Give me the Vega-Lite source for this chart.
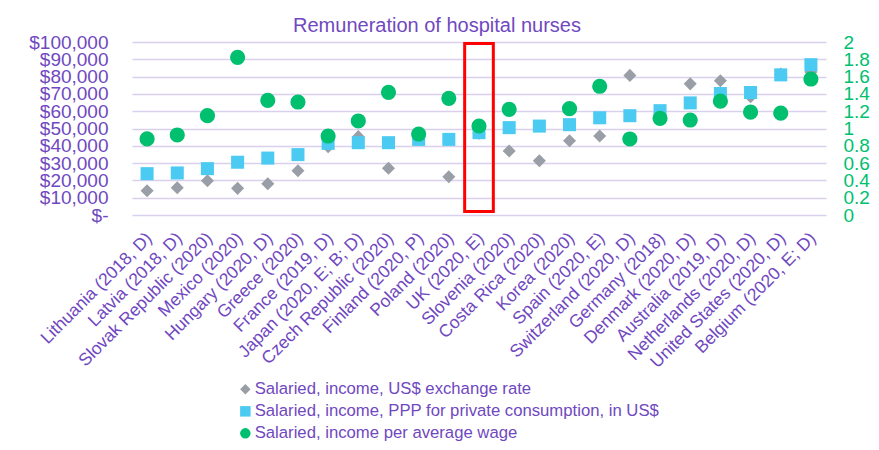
{
  "$schema": "https://vega.github.io/schema/vega-lite/v6.json",
  "width": 694,
  "height": 173,
  "autosize": {"type": "none"},
  "padding": {"left": 132, "top": 42, "right": 53, "bottom": 235},
  "background": "white",
  "title": {
    "text": "Remuneration of hospital nurses",
    "font": "Liberation Sans",
    "fontSize": 20,
    "fontWeight": "normal",
    "color": "#7048C0",
    "anchor": "middle",
    "frame": "group",
    "dx": -42,
    "offset": -3
  },
  "datasets": {
    "pay": [
      {"country": "Lithuania (2018, D)", "series": "Salaried, income, US$ exchange rate", "value": 14000},
      {"country": "Latvia (2018, D)", "series": "Salaried, income, US$ exchange rate", "value": 15800},
      {"country": "Slovak Republic (2020)", "series": "Salaried, income, US$ exchange rate", "value": 19800},
      {"country": "Mexico (2020)", "series": "Salaried, income, US$ exchange rate", "value": 15400},
      {"country": "Hungary (2020, D)", "series": "Salaried, income, US$ exchange rate", "value": 18100},
      {"country": "Greece (2020)", "series": "Salaried, income, US$ exchange rate", "value": 25600},
      {"country": "France (2019, D)", "series": "Salaried, income, US$ exchange rate", "value": 39500},
      {"country": "Japan (2020, E; B; D)", "series": "Salaried, income, US$ exchange rate", "value": 45300},
      {"country": "Czech Republic (2020)", "series": "Salaried, income, US$ exchange rate", "value": 27000},
      {"country": "Finland (2020, P)", "series": "Salaried, income, US$ exchange rate", "value": 43500},
      {"country": "Poland (2020)", "series": "Salaried, income, US$ exchange rate", "value": 22100},
      {"country": "UK (2020, E)", "series": "Salaried, income, US$ exchange rate", "value": 47200},
      {"country": "Slovenia (2020)", "series": "Salaried, income, US$ exchange rate", "value": 37000},
      {"country": "Costa Rica (2020)", "series": "Salaried, income, US$ exchange rate", "value": 31400},
      {"country": "Korea (2020)", "series": "Salaried, income, US$ exchange rate", "value": 42900},
      {"country": "Spain (2020, E)", "series": "Salaried, income, US$ exchange rate", "value": 45700},
      {"country": "Switzerland (2020, D)", "series": "Salaried, income, US$ exchange rate", "value": 80700},
      {"country": "Germany (2018)", "series": "Salaried, income, US$ exchange rate", "value": 59000},
      {"country": "Denmark (2020, D)", "series": "Salaried, income, US$ exchange rate", "value": 75800},
      {"country": "Australia (2019, D)", "series": "Salaried, income, US$ exchange rate", "value": 77600},
      {"country": "Netherlands (2020, D)", "series": "Salaried, income, US$ exchange rate", "value": 68400},
      {"country": "United States (2020, D)", "series": "Salaried, income, US$ exchange rate", "value": 81500},
      {"country": "Belgium (2020, E; D)", "series": "Salaried, income, US$ exchange rate", "value": 82600},

      {"country": "Lithuania (2018, D)", "series": "Salaried, income, PPP for private consumption, in US$", "value": 23900},
      {"country": "Latvia (2018, D)", "series": "Salaried, income, PPP for private consumption, in US$", "value": 24300},
      {"country": "Slovak Republic (2020)", "series": "Salaried, income, PPP for private consumption, in US$", "value": 26800},
      {"country": "Mexico (2020)", "series": "Salaried, income, PPP for private consumption, in US$", "value": 30500},
      {"country": "Hungary (2020, D)", "series": "Salaried, income, PPP for private consumption, in US$", "value": 32900},
      {"country": "Greece (2020)", "series": "Salaried, income, PPP for private consumption, in US$", "value": 34900},
      {"country": "France (2019, D)", "series": "Salaried, income, PPP for private consumption, in US$", "value": 41400},
      {"country": "Japan (2020, E; B; D)", "series": "Salaried, income, PPP for private consumption, in US$", "value": 41800},
      {"country": "Czech Republic (2020)", "series": "Salaried, income, PPP for private consumption, in US$", "value": 41800},
      {"country": "Finland (2020, P)", "series": "Salaried, income, PPP for private consumption, in US$", "value": 43700},
      {"country": "Poland (2020)", "series": "Salaried, income, PPP for private consumption, in US$", "value": 43700},
      {"country": "UK (2020, E)", "series": "Salaried, income, PPP for private consumption, in US$", "value": 47600},
      {"country": "Slovenia (2020)", "series": "Salaried, income, PPP for private consumption, in US$", "value": 50500},
      {"country": "Costa Rica (2020)", "series": "Salaried, income, PPP for private consumption, in US$", "value": 51400},
      {"country": "Korea (2020)", "series": "Salaried, income, PPP for private consumption, in US$", "value": 52200},
      {"country": "Spain (2020, E)", "series": "Salaried, income, PPP for private consumption, in US$", "value": 56200},
      {"country": "Switzerland (2020, D)", "series": "Salaried, income, PPP for private consumption, in US$", "value": 57400},
      {"country": "Germany (2018)", "series": "Salaried, income, PPP for private consumption, in US$", "value": 60300},
      {"country": "Denmark (2020, D)", "series": "Salaried, income, PPP for private consumption, in US$", "value": 64800},
      {"country": "Australia (2019, D)", "series": "Salaried, income, PPP for private consumption, in US$", "value": 70200},
      {"country": "Netherlands (2020, D)", "series": "Salaried, income, PPP for private consumption, in US$", "value": 70800},
      {"country": "United States (2020, D)", "series": "Salaried, income, PPP for private consumption, in US$", "value": 81000},
      {"country": "Belgium (2020, E; D)", "series": "Salaried, income, PPP for private consumption, in US$", "value": 86900},

      {"country": "Lithuania (2018, D)", "series": "Salaried, income per average wage", "value": 0.88},
      {"country": "Latvia (2018, D)", "series": "Salaried, income per average wage", "value": 0.925},
      {"country": "Slovak Republic (2020)", "series": "Salaried, income per average wage", "value": 1.148},
      {"country": "Mexico (2020)", "series": "Salaried, income per average wage", "value": 1.823},
      {"country": "Hungary (2020, D)", "series": "Salaried, income per average wage", "value": 1.326},
      {"country": "Greece (2020)", "series": "Salaried, income per average wage", "value": 1.306},
      {"country": "France (2019, D)", "series": "Salaried, income per average wage", "value": 0.913},
      {"country": "Japan (2020, E; B; D)", "series": "Salaried, income per average wage", "value": 1.087},
      {"country": "Czech Republic (2020)", "series": "Salaried, income per average wage", "value": 1.418},
      {"country": "Finland (2020, P)", "series": "Salaried, income per average wage", "value": 0.936},
      {"country": "Poland (2020)", "series": "Salaried, income per average wage", "value": 1.349},
      {"country": "UK (2020, E)", "series": "Salaried, income per average wage", "value": 1.029},
      {"country": "Slovenia (2020)", "series": "Salaried, income per average wage", "value": 1.222},
      {"country": "Korea (2020)", "series": "Salaried, income per average wage", "value": 1.229},
      {"country": "Spain (2020, E)", "series": "Salaried, income per average wage", "value": 1.488},
      {"country": "Switzerland (2020, D)", "series": "Salaried, income per average wage", "value": 0.879},
      {"country": "Germany (2018)", "series": "Salaried, income per average wage", "value": 1.118},
      {"country": "Denmark (2020, D)", "series": "Salaried, income per average wage", "value": 1.098},
      {"country": "Australia (2019, D)", "series": "Salaried, income per average wage", "value": 1.316},
      {"country": "Netherlands (2020, D)", "series": "Salaried, income per average wage", "value": 1.189},
      {"country": "United States (2020, D)", "series": "Salaried, income per average wage", "value": 1.177},
      {"country": "Belgium (2020, E; D)", "series": "Salaried, income per average wage", "value": 1.572}
    ],
    "highlight": [
      {"country": "UK (2020, E)", "top": 99100, "bottom": 2000}
    ]
  },
  "data": {"name": "pay"},
  "encoding": {
    "x": {
      "field": "country", "type": "nominal",
      "scale": {
        "type": "band", "paddingInner": 0, "paddingOuter": 0,
        "domain": ["Lithuania (2018, D)", "Latvia (2018, D)", "Slovak Republic (2020)", "Mexico (2020)", "Hungary (2020, D)", "Greece (2020)", "France (2019, D)", "Japan (2020, E; B; D)", "Czech Republic (2020)", "Finland (2020, P)", "Poland (2020)", "UK (2020, E)", "Slovenia (2020)", "Costa Rica (2020)", "Korea (2020)", "Spain (2020, E)", "Switzerland (2020, D)", "Germany (2018)", "Denmark (2020, D)", "Australia (2019, D)", "Netherlands (2020, D)", "United States (2020, D)", "Belgium (2020, E; D)"]
      },
      "axis": {
        "title": null, "domain": false, "ticks": false, "labelAngle": -45,
        "labelColor": "#7048C0", "labelFontSize": 17.5, "labelPadding": 14, "labelOffset": -4,
        "labelOverlap": false, "labelLimit": 300
      }
    }
  },
  "layer": [
    {
      "data": {"name": "highlight"},
      "mark": {"type": "rect", "fill": null, "fillOpacity": 0, "stroke": "#FF0000", "strokeWidth": 3, "width": {"band": 0.95}},
      "encoding": {
        "y": {"field": "top", "type": "quantitative", "scale": {"domain": [0, 100000], "nice": false}, "axis": null},
        "y2": {"field": "bottom"}
      }
    },
    {
      "transform": [{"filter": "datum.series !== 'Salaried, income per average wage'"}],
      "mark": {"type": "point", "filled": true, "opacity": 1, "size": 170, "strokeWidth": 0},
      "encoding": {
        "y": {
          "field": "value", "type": "quantitative",
          "scale": {"domain": [0, 100000], "nice": false},
          "axis": {
            "orient": "left", "title": null, "domain": false, "ticks": false,
            "values": [0, 10000, 20000, 30000, 40000, 50000, 60000, 70000, 80000, 90000, 100000],
            "labelExpr": "datum.value === 0 ? '$-' : '$' + format(datum.value, ',')",
            "labelColor": "#7048C0", "labelFontSize": 19, "labelPadding": 24,
            "labelOverlap": false, "labelBound": false, "labelFlush": false,
            "grid": true, "gridColor": "#D9D0EE", "gridWidth": 1.5
          }
        },
        "color": {
          "field": "series", "type": "nominal",
          "scale": {
            "domain": ["Salaried, income, US$ exchange rate", "Salaried, income, PPP for private consumption, in US$", "Salaried, income per average wage"],
            "range": ["#9A9EA6", "#4CCBF2", "#00BF6F"]
          },
          "legend": {
            "title": null, "orient": "none", "legendX": 105, "legendY": 339, "direction": "vertical",
            "labelColor": "#7048C0", "labelFontSize": 16.7, "symbolSize": 110, "rowPadding": 4, "labelOffset": 1,
            "padding": 0, "symbolStrokeWidth": 0, "labelLimit": 500
          }
        },
        "shape": {
          "field": "series", "type": "nominal",
          "scale": {
            "domain": ["Salaried, income, US$ exchange rate", "Salaried, income, PPP for private consumption, in US$", "Salaried, income per average wage"],
            "range": ["diamond", "square", "circle"]
          },
          "legend": {
            "title": null, "orient": "none", "legendX": 105, "legendY": 339, "direction": "vertical",
            "labelColor": "#7048C0", "labelFontSize": 16.7, "symbolSize": 110, "rowPadding": 4, "labelOffset": 1,
            "padding": 0, "symbolStrokeWidth": 0, "labelLimit": 500
          }
        }
      }
    },
    {
      "transform": [{"filter": "datum.series === 'Salaried, income per average wage'"}],
      "mark": {"type": "point", "filled": true, "opacity": 1, "size": 230, "strokeWidth": 0},
      "encoding": {
        "y": {
          "field": "value", "type": "quantitative",
          "scale": {"domain": [0, 2], "nice": false},
          "axis": {
            "orient": "right", "title": null, "grid": false, "domain": false, "ticks": false,
            "values": [0, 0.2, 0.4, 0.6, 0.8, 1, 1.2, 1.4, 1.6, 1.8, 2],
            "labelExpr": "format(datum.value, '~g')",
            "labelColor": "#00BF6F", "labelFontSize": 19, "labelPadding": 17,
            "labelOverlap": false, "labelBound": false, "labelFlush": false
          }
        },
        "color": {
          "field": "series", "type": "nominal",
          "scale": {
            "domain": ["Salaried, income, US$ exchange rate", "Salaried, income, PPP for private consumption, in US$", "Salaried, income per average wage"],
            "range": ["#9A9EA6", "#4CCBF2", "#00BF6F"]
          },
          "legend": {
            "title": null, "orient": "none", "legendX": 105, "legendY": 339, "direction": "vertical",
            "labelColor": "#7048C0", "labelFontSize": 16.7, "symbolSize": 110, "rowPadding": 4, "labelOffset": 1,
            "padding": 0, "symbolStrokeWidth": 0, "labelLimit": 500
          }
        },
        "shape": {
          "field": "series", "type": "nominal",
          "scale": {
            "domain": ["Salaried, income, US$ exchange rate", "Salaried, income, PPP for private consumption, in US$", "Salaried, income per average wage"],
            "range": ["diamond", "square", "circle"]
          },
          "legend": {
            "title": null, "orient": "none", "legendX": 105, "legendY": 339, "direction": "vertical",
            "labelColor": "#7048C0", "labelFontSize": 16.7, "symbolSize": 110, "rowPadding": 4, "labelOffset": 1,
            "padding": 0, "symbolStrokeWidth": 0, "labelLimit": 500
          }
        }
      }
    }
  ],
  "resolve": {"scale": {"y": "independent"}},
  "config": {
    "font": "Liberation Sans",
    "view": {"stroke": null},
    "axis": {"labelFont": "Liberation Sans"},
    "legend": {"labelFont": "Liberation Sans"}
  }
}
